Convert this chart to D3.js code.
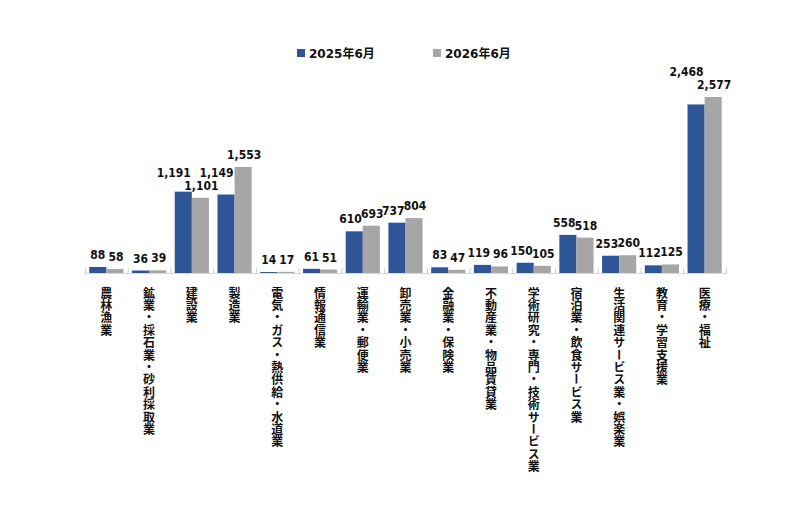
<!DOCTYPE html>
<html lang="ja">
<head>
    <meta charset="UTF-8">
    <title>産業別</title>
    <script src="https://d3js.org/d3.v7.min.js"></script>
    <style>
        body { margin: 0; background: #fff; }
        .val {
            font-family: 'DejaVu Sans Condensed', 'DejaVu Sans', sans-serif;
            font-stretch: condensed;
            font-weight: bold;
            font-size: 12px;
            fill: #111;
        }
        .cat {
            font-family: 'Noto Sans CJK JP', sans-serif;
            font-weight: bold;
            font-size: 12px;
            letter-spacing: 0.4px;
            fill: #111;
            writing-mode: vertical-rl;
        }
        .legend text {
            font-family: 'DejaVu Sans', 'Noto Sans CJK JP', sans-serif;
            font-weight: bold;
            font-size: 12px;
            fill: #111;
        }
    </style>
</head>
<body>
<script>
    const width = 800;
    const height = 511;

    const categories = ['農林漁業', '鉱業・採石業・砂利採取業', '建設業', '製造業', '電気・ガス・熱供給・水道業',
        '情報通信業', '運輸業・郵便業', '卸売業・小売業', '金融業・保険業', '不動産業・物品賃貸業',
        '学術研究・専門・技術サービス業', '宿泊業・飲食サービス業', '生活関連サービス業・娯楽業',
        '教育・学習支援業', '医療・福祉'];
    const series = ['2025年6月', '2026年6月'];
    const values2025 = [88, 36, 1191, 1149, 14, 61, 610, 737, 83, 119, 150, 558, 253, 112, 2468];
    const values2026 = [58, 39, 1101, 1553, 17, 51, 693, 804, 47, 96, 105, 518, 260, 125, 2577];
    const colors = ['#2f5597', '#a6a6a6'];

    const baseY = 273;
    const left = 85, right = 726;

    const svg = d3.select("body").append("svg").attr("width", width).attr("height", height);

    const x = d3.scaleBand().domain(categories).range([left, right]).paddingInner(0.2).paddingOuter(0.1);
    const xs = d3.scaleBand().domain(series).range([0, x.bandwidth()]);
    const y = d3.scaleLinear().domain([0, 3000]).range([baseY, baseY - 3000 * 0.0683]);

    const rows = categories.map((c, i) => ({cat: c, vals: [values2025[i], values2026[i]]}));

    // axis line + category separator ticks
    svg.append("line")
        .attr("x1", left).attr("x2", right)
        .attr("y1", baseY + 0.5).attr("y2", baseY + 0.5)
        .style("stroke", '#d9d9d9');
    svg.selectAll("line.tick")
        .data(d3.range(categories.length + 1)).enter()
        .append("line").attr("class", "tick")
        .attr("x1", i => left + i * x.step() + 0.5)
        .attr("x2", i => left + i * x.step() + 0.5)
        .attr("y1", baseY - 5).attr("y2", baseY + 1)
        .style("stroke", '#d0d0d0');

    const groups = svg.selectAll("g.grp")
        .data(rows).enter()
        .append("g").attr("class", "grp")
        .attr("transform", d => `translate(${x(d.cat)},0)`);

    groups.selectAll("rect")
        .data(d => d.vals.map((v, k) => ({v, k}))).enter()
        .append("rect")
        .attr("x", d => xs(series[d.k]))
        .attr("y", d => y(d.v))
        .attr("width", xs.bandwidth())
        .attr("height", d => baseY - y(d.v))
        .style("fill", d => colors[d.k]);

    // value labels: gray ones first, blue ones get pushed up if they collide
    const fmt = d3.format(",");
    const placed = [];
    const labelLayer = svg.append("g");
    [1, 0].forEach(function(k) {
        rows.forEach(function(r) {
            const v = r.vals[k];
            const bx = x(r.cat) + xs(series[k]);
            const t = labelLayer.append("text").attr("class", "val").text(fmt(v));
            const w = t.node().getComputedTextLength();
            let x0 = k == 0 ? bx + xs.bandwidth() - 1 - w : bx + xs.bandwidth() / 2 + 1 - w / 2;
            let yb = y(v) - 8;
            let moved = true;
            while (moved) {
                moved = false;
                for (const p of placed) {
                    if (x0 < p.x1 - 4 && x0 + w > p.x0 + 4 && yb - 11 < p.y1 && yb > p.y1 - 11) {
                        yb = p.y1 - 13;
                        moved = true;
                    }
                }
            }
            placed.push({x0: x0, x1: x0 + w, y1: yb});
            t.attr("x", x0).attr("y", yb);
        });
    });

    svg.selectAll("text.cat")
        .data(categories).enter()
        .append("text").attr("class", "cat")
        .attr("x", d => x(d) + x.bandwidth() / 2)
        .attr("y", 287)
        .text(d => d);

    const legend = svg.append("g").attr("class", "legend");
    const legendX = [297, 433];
    series.forEach(function(s, k) {
        legend.append("rect")
            .attr("x", legendX[k]).attr("y", 49)
            .attr("width", 8).attr("height", 8)
            .style("fill", colors[k]);
        legend.append("text")
            .attr("x", legendX[k] + 12).attr("y", 57.5)
            .text(s);
    });
</script>
</body>
</html>
